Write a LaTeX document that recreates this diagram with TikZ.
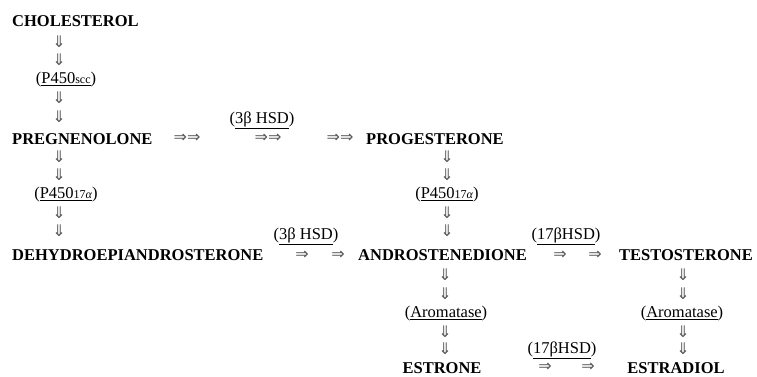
\documentclass[tikz,border=0pt]{standalone}
\usepackage{fontspec}
\setmainfont{Liberation Serif}
\newfontfamily\arrfont{DejaVu Sans}
\newcommand{\smallsub}[1]{{\fontsize{12}{12}\selectfont #1}}
\begin{document}
\begin{tikzpicture}[x=1pt,y=-1pt,
  cmpd/.style={font=\fontsize{16.5}{18}\selectfont\bfseries, inner sep=0pt, anchor=base west},
  cmpdc/.style={font=\fontsize{16.5}{18}\selectfont\bfseries, inner sep=0pt, anchor=base},
  enz/.style={font=\fontsize{16.5}{18}\selectfont, inner sep=0pt},
  darr/.style={font=\arrfont\fontsize{16}{16}\selectfont, text=black!65, inner sep=0pt},
]
\fill[white] (0,0) rectangle (757,376);
\useasboundingbox (0,0) rectangle (757,376);

% compounds
\node[cmpd] (chol) at (12,26) {CHOLESTEROL};
\node[cmpd] (preg) at (12,144) {PREGNENOLONE};
\node[cmpd] (prog) at (366,144) {PROGESTERONE};
\node[cmpd] (dhea) at (12,260) {DEHYDROEPIANDROSTERONE};
\node[cmpd] (andro) at (358,260) {ANDROSTENEDIONE};
\node[cmpd] (testo) at (619,260) {TESTOSTERONE};
\node[cmpdc] (estrone) at (442,373) {ESTRONE};
\node[cmpdc] (estradiol) at (676,373) {ESTRADIOL};

% enzymes
\node[enz] (e1) at (66,80) {(\underline{P450\smallsub{scc}})};
\node[enz] (e2) at (66,195) {(\underline{P450\smallsub{17\textit{α}}})};
\node[enz] (e3) at (262,120) {(\underline{3β HSD})};
\node[enz] (e4) at (447,195) {(\underline{P450\smallsub{17\textit{α}}})};
\node[enz] (e5) at (306,236) {(\underline{3β HSD})};
\node[enz] (e6) at (566,236) {(\underline{17βHSD})};
\node[enz] (e7) at (446,314) {(\underline{Aromatase})};
\node[enz] (e8) at (682,314) {(\underline{Aromatase})};
\node[enz] (e9) at (562,350) {(\underline{17βHSD})};

% down arrows, column A
\foreach \yy [count=\i] in {42,60,98,117,157,175,213,231}
  \node[darr] (da\i) at (59,\yy) {⇓};
% column B
\foreach \yy [count=\i] in {157,175,213,231}
  \node[darr] (db\i) at (447,\yy) {⇓};
\foreach \yy [count=\i] in {275,294,332,349}
  \node[darr] (dc\i) at (445,\yy) {⇓};
% column C
\foreach \yy [count=\i] in {275,294,332,349}
  \node[darr] (dd\i) at (683,\yy) {⇓};

% right arrows
\node[darr] (r1) at (187,138) {⇒⇒};
\node[darr] (r2) at (268,138) {⇒⇒};
\node[darr] (r3) at (340,138) {⇒⇒};
\node[darr] (r4) at (302,255) {⇒};
\node[darr] (r5) at (338,255) {⇒};
\node[darr] (r6) at (560,255) {⇒};
\node[darr] (r7) at (595,255) {⇒};
\node[darr] (r8) at (545,367) {⇒};
\node[darr] (r9) at (588,367) {⇒};
\end{tikzpicture}
\end{document}
